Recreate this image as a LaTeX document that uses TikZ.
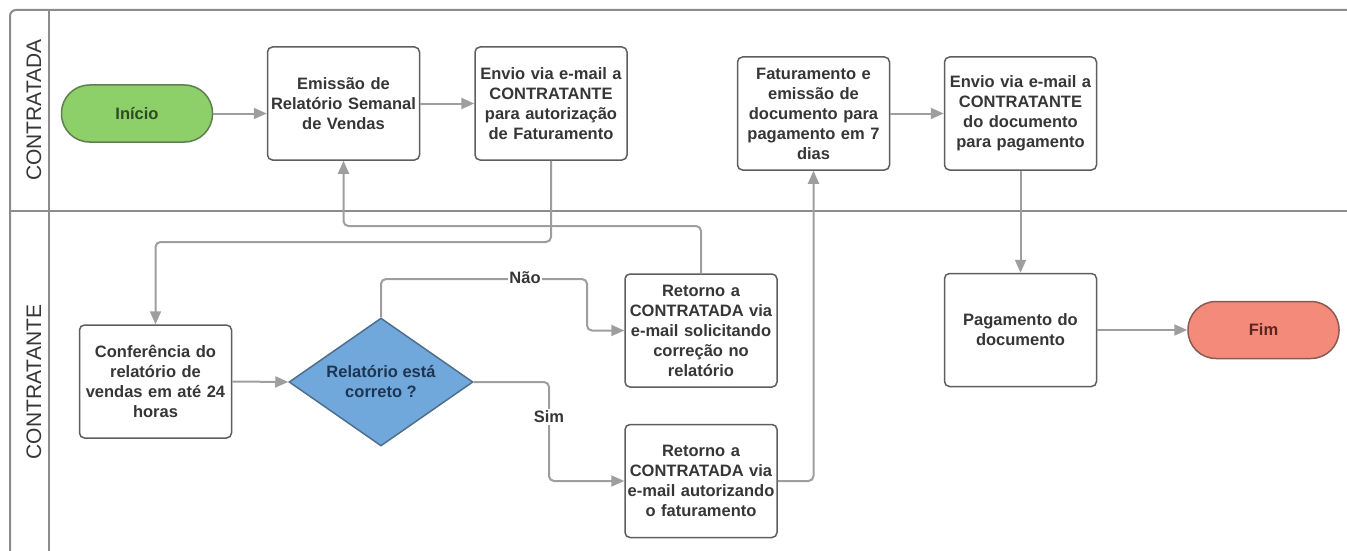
\documentclass[tikz,border=0pt]{standalone}
\usepackage{fontspec}
\setmainfont{Liberation Sans}
\usetikzlibrary{arrows.meta,shapes.geometric}
\definecolor{framec}{HTML}{8C8C8C}
\definecolor{boxc}{HTML}{5E5E5E}
\definecolor{connc}{HTML}{9E9E9E}
\definecolor{txtc}{HTML}{363636}
\definecolor{greenf}{HTML}{8DD06A}
\definecolor{greend}{HTML}{5F7F4E}
\definecolor{greent}{HTML}{2F4A22}
\definecolor{bluef}{HTML}{70A8DC}
\definecolor{blued}{HTML}{4F6E8C}
\definecolor{bluet}{HTML}{1E3552}
\definecolor{redf}{HTML}{F48B7A}
\definecolor{redd}{HTML}{8C5A54}
\definecolor{redt}{HTML}{5A2620}
\tikzset{
  lbl/.style={font=\fontsize{16.5}{20}\selectfont\bfseries, text=txtc},
  procbox/.style={lbl, draw=boxc, line width=1.5pt, rounded corners=5pt, fill=white,
    minimum width=151pt, minimum height=113pt, text width=152pt, align=center, inner sep=0pt},
  termnode/.style={lbl, line width=1.5pt, rounded corners=28pt, minimum width=151pt,
    minimum height=57pt, inner sep=0pt},
  decnode/.style={lbl, diamond, draw=blued, fill=bluef, text=bluet, line width=1.5pt,
    minimum width=184pt, minimum height=128pt, aspect=1.4375, inner sep=0pt, align=center},
  conn/.style={draw=connc, line width=2pt, rounded corners=5pt,
    -{Triangle[length=13pt,width=11pt]}},
  frameln/.style={draw=framec, line width=2pt},
  lanelbl/.style={font=\fontsize{21}{24}\selectfont, text=txtc, rotate=90},
  edgelbl/.style={lbl, fill=white, inner sep=1.5pt},
}
\begin{document}
\begin{tikzpicture}[x=1pt,y=-1pt]
\useasboundingbox (0,0) rectangle (1347,551);
% pool frame
\draw[frameln, rounded corners=6pt] (10,551) -- (10,10) -- (1347,10);
\draw[frameln] (49,10) -- (49,551);
\draw[frameln] (10,211) -- (1347,211);
\node[lanelbl] (laneA) at (34,110) {CONTRATADA};
\node[lanelbl] (laneB) at (34,382) {CONTRATANTE};
% nodes
\node[termnode, draw=greend, fill=greenf, text=greent] (ini) at (137,113.5) {Início};
\node[procbox] (emi) at (343.5,103.5) {Emissão de\\Relatório Semanal\\de Vendas};
\node[procbox] (env) at (551,103.5) {Envio via e-mail a\\CONTRATANTE\\para autorização\\de Faturamento};
\node[procbox] (fat) at (813.5,113.5) {Faturamento e\\emissão de\\documento para\\pagamento em 7\\dias};
\node[procbox] (env2) at (1020.5,113.5) {Envio via e-mail a\\CONTRATANTE\\do documento\\para pagamento};
\node[procbox] (conf) at (155.5,381.5) {Conferência do\\relatório de\\vendas em até 24\\horas};
\node[decnode] (dia) at (381,382) {Relatório está\\correto ?};
\node[procbox] (ret1) at (701,330.5) {Retorno a\\CONTRATADA via\\e-mail solicitando\\correção no\\relatório};
\node[procbox] (ret2) at (701,481) {Retorno a\\CONTRATADA via\\e-mail autorizando\\o faturamento};
\node[procbox] (pag) at (1020.5,330) {Pagamento do\\documento};
\node[termnode, draw=redd, fill=redf, text=redt] (fim) at (1263.5,330) {Fim};
% helper coordinates
\coordinate (k1) at (155.5,242);
\coordinate (k2) at (343.5,226);
\coordinate (k3) at (587,279);
\coordinate (k4) at (549,430);
% connectors
\draw[conn] (ini.east) -- (ini.east -| emi.west);
\draw[conn] (emi.east) -- (env.west);
\draw[conn] (fat.east) -- (env2.west);
\draw[conn] (env.south) |- (k1) -- (conf.north);
\draw[conn] (ret1.north) |- (k2) -- (emi.south);
\draw[conn] (conf.east) -- (dia.west);
\draw[conn] (dia.north) |- (k3) |- (ret1.west);
\draw[conn] (dia.east) -| (k4) |- (ret2.west);
\draw[conn] (ret2.east) -| (fat.south);
\draw[conn] (env2.south) -- (pag.north);
\draw[conn] (pag.east) -- (fim.west);
% edge labels
\node[edgelbl] (nao) at (525,278) {Não};
\node[edgelbl] (sim) at (549,417) {Sim};
\end{tikzpicture}
\end{document}
